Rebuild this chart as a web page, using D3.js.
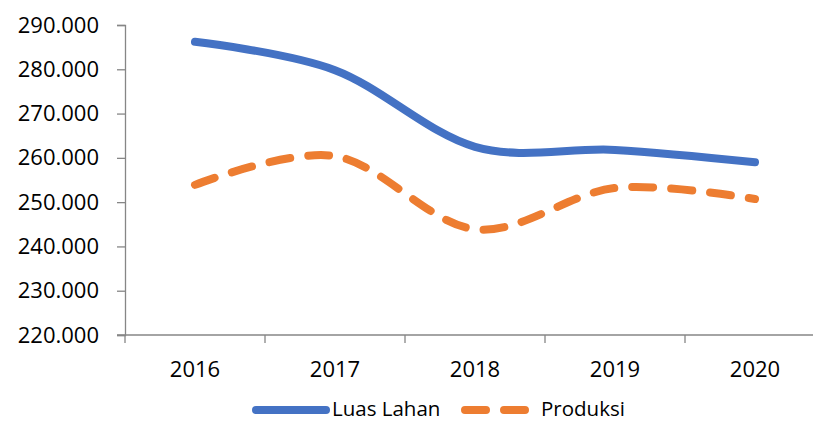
<!DOCTYPE html>
<html>
<head>
<meta charset="utf-8">
<script src="https://cdn.jsdelivr.net/npm/d3@7"></script>
<style>
  body { margin: 0; background: #fff; }
  text { font-family: "Open Sans", "Noto Sans", sans-serif; }
</style>
</head>
<body>
<div id="chart"></div>
<script>
const width = 813;
const height = 421;

const years = ["2016", "2017", "2018", "2019", "2020"];
const luasLahan = [286200, 279800, 262500, 261800, 259000];
const produksi = [253900, 260400, 243900, 253200, 250700];
const yTicks = [220000, 230000, 240000, 250000, 260000, 270000, 280000, 290000];

const seriesList = [
  { name: "Luas Lahan", values: luasLahan, color: "#4472c4", dash: null },
  { name: "Produksi", values: produksi, color: "#ed7d31", dash: "21,18" }
];

const svg = d3.select("#chart")
  .append("svg")
  .attr("width", width)
  .attr("height", height);

const x = d3.scaleBand().domain(years).range([125, 825]);
const y = d3.scaleLinear().domain([220000, 290000]).range([335, 25]);

const fmt = v => d3.format(",")(v).replace(/,/g, ".");

// y axis
const yAxis = svg.append("g")
  .attr("transform", "translate(125,0)")
  .call(d3.axisLeft(y).tickValues(yTicks).tickSize(8).tickFormat(fmt));
yAxis.select(".domain").attr("stroke", "#868686").attr("stroke-width", 1.3);
yAxis.selectAll(".tick line").attr("stroke", "#868686").attr("stroke-width", 1.3);
yAxis.selectAll(".tick text")
  .attr("x", -26)
  .attr("font-size", 22)
  .attr("fill", "#000")
  .style("font-family", "'Open Sans', sans-serif");

// x axis
const xAxis = svg.append("g").attr("transform", "translate(0,335)");
xAxis.append("line")
  .attr("x1", 117).attr("x2", 825)
  .attr("stroke", "#868686").attr("stroke-width", 1.3);
xAxis.selectAll(".xt")
  .data(years.concat(["end"]))
  .enter().append("line")
  .attr("x1", (d, i) => i < years.length ? x(d) : x.range()[1])
  .attr("x2", (d, i) => i < years.length ? x(d) : x.range()[1])
  .attr("y1", 0).attr("y2", 8)
  .attr("stroke", "#868686").attr("stroke-width", 1.3);
xAxis.selectAll(".xl")
  .data(years)
  .enter().append("text")
  .attr("x", d => x(d) + x.bandwidth() / 2)
  .attr("y", 42)
  .attr("text-anchor", "middle")
  .attr("font-size", 22)
  .attr("fill", "#000")
  .text(d => d);

// lines
const line = d3.line()
  .x((d, i) => x(years[i]) + x.bandwidth() / 2)
  .y(d => y(d))
  .curve(d3.curveCatmullRom.alpha(0));

seriesList.forEach(s => {
  svg.append("path")
    .datum(s.values)
    .attr("d", line)
    .attr("fill", "none")
    .attr("stroke", s.color)
    .attr("stroke-width", 8)
    .attr("stroke-linecap", "round")
    .attr("stroke-linejoin", "round")
    .attr("stroke-dasharray", s.dash);
});

// legend
const legend = svg.append("g").attr("transform", "translate(0,410)");
const legendItems = [
  { s: seriesList[0], x1: 256, x2: 326, tx: 332 },
  { s: seriesList[1], x1: 465, x2: 525, tx: 541 }
];
legendItems.forEach(it => {
  legend.append("line")
    .attr("x1", it.x1).attr("x2", it.x2)
    .attr("stroke", it.s.color)
    .attr("stroke-width", 8)
    .attr("stroke-linecap", "round")
    .attr("stroke-dasharray", it.s.dash);
  legend.append("text")
    .attr("x", it.tx)
    .attr("y", 5.5)
    .attr("font-size", 20.5)
    .attr("fill", "#000")
    .text(it.s.name);
});
</script>
</body>
</html>
